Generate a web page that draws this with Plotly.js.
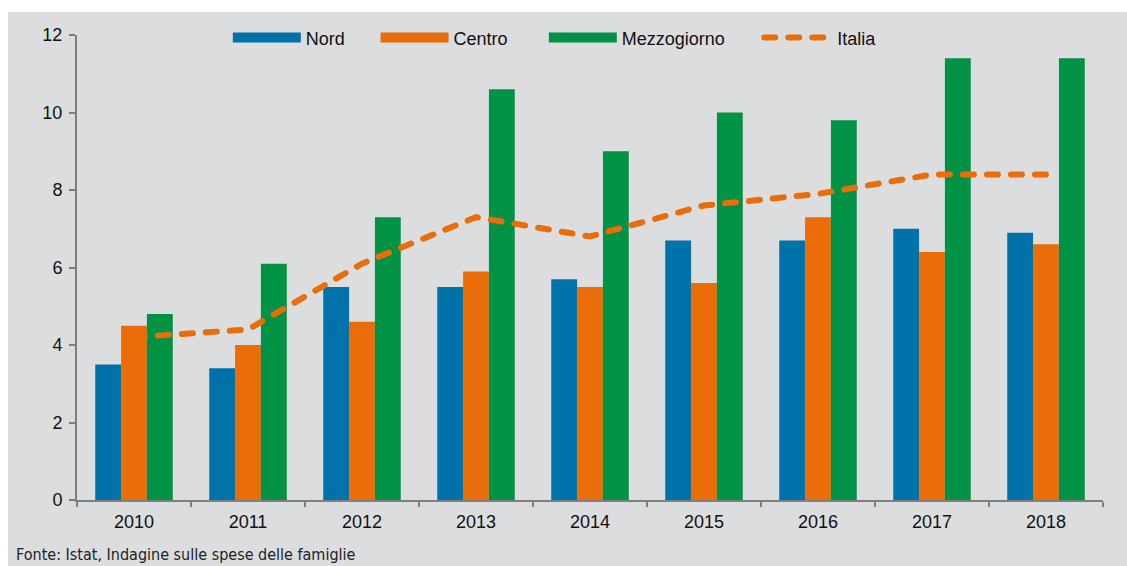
<!DOCTYPE html>
<html>
<head>
<meta charset="utf-8">
<script src="https://cdn.plot.ly/plotly-3.0.1.min.js"></script>
<style>
  html, body { margin: 0; padding: 0; background: #ffffff; }
  #chart { position: absolute; left: 8px; top: 12px; width: 1119px; height: 554px; }
  #chart .scatterlayer .js-line { stroke-linecap: round; }
  #chart .legend4 .js-line { stroke-linecap: round; }
</style>
</head>
<body>
<div id="chart"></div>
<script>
// Valori (percentuali)
const anni = ['2010', '2011', '2012', '2013', '2014', '2015', '2016', '2017', '2018'];
const nord = [3.5, 3.4, 5.5, 5.5, 5.7, 6.7, 6.7, 7.0, 6.9];
const centro = [4.5, 4.0, 4.6, 5.9, 5.5, 5.6, 7.3, 6.4, 6.6];
const mezzogiorno = [4.8, 6.1, 7.3, 10.6, 9.0, 10.0, 9.8, 11.4, 11.4];
const italia = [4.2, 4.4, 6.1, 7.3, 6.8, 7.6, 7.9, 8.4, 8.4];

const colNord = '#0072aa';
const colCentro = '#ea6d0a';
const colMezz = '#009245';
const axisGray = '#808080';
const mainFont = 'Arial';

function barTrace(name, values, color) {
    return {
        x: anni,
        y: values,
        type: 'bar',
        name,
        marker: { color, line: { width: 0 } },
        showlegend: false,
        hoverinfo: 'x+y+name',
    };
}

// legend-only swatches (wide rectangles like the original)
function swatch(name, color, legendId) {
    return {
        x: [null],
        y: [null],
        type: 'scatter',
        mode: 'lines',
        name,
        legend: legendId,
        line: { color, width: 12 },
        hoverinfo: 'skip',
    };
}

function legendAt(x) {
    return {
        orientation: 'h',
        x,
        xanchor: 'left',
        y: 0.994,
        yanchor: 'middle',
        bgcolor: 'rgba(0,0,0,0)',
        font: { family: mainFont, size: 18, color: '#111111' },
        itemwidth: 68,
    };
}

const traces = [
    barTrace('Nord', nord, colNord),
    barTrace('Centro', centro, colCentro),
    barTrace('Mezzogiorno', mezzogiorno, colMezz),
    swatch('Nord', colNord, 'legend'),
    swatch('Centro', colCentro, 'legend2'),
    swatch('Mezzogiorno', colMezz, 'legend3'),
    {
        x: anni,
        y: italia,
        type: 'scatter',
        mode: 'lines',
        name: 'Italia',
        legend: 'legend4',
        line: { color: colCentro, width: 6, dash: '11px,13px' },
    },
];

const layout = {
    paper_bgcolor: '#dcdddf',
    plot_bgcolor: '#dcdddf',
    font: { family: mainFont, color: '#111111', size: 18 },
    margin: { l: 69, r: 24, t: 23, b: 66, autoexpand: false },
    barmode: 'group',
    bargap: 0.32,
    bargroupgap: 0,
    showlegend: true,
    legend: legendAt(0.147),
    legend2: legendAt(0.291),
    legend3: legendAt(0.455),
    legend4: legendAt(0.665),
    xaxis: {
        type: 'category',
        showgrid: false,
        showline: true,
        linecolor: axisGray,
        linewidth: 2,
        ticks: 'outside',
        tickson: 'boundaries',
        ticklen: 5,
        tickwidth: 2,
        tickcolor: axisGray,
        ticklabelstandoff: 4,
        tickfont: { family: mainFont, size: 18, color: '#111111' },
        zeroline: false,
        fixedrange: true,
    },
    yaxis: {
        range: [0, 12],
        dtick: 2,
        showgrid: false,
        showline: true,
        linecolor: axisGray,
        linewidth: 2,
        ticks: 'outside',
        ticklen: 6,
        tickwidth: 2,
        tickcolor: axisGray,
        ticklabelstandoff: 3,
        tickfont: { family: mainFont, size: 18, color: '#111111' },
        zeroline: false,
        fixedrange: true,
    },
    annotations: [{
        text: 'Fonte: Istat, Indagine sulle spese delle famiglie',
        xref: 'paper',
        yref: 'paper',
        x: -0.061,
        y: -0.142,
        xanchor: 'left',
        yanchor: 'bottom',
        showarrow: false,
        font: { family: 'DejaVu Sans Condensed', size: 16, color: '#222222' },
    }],
};

Plotly.newPlot('chart', traces, layout, { displayModeBar: false, responsive: false });
</script>
</body>
</html>
